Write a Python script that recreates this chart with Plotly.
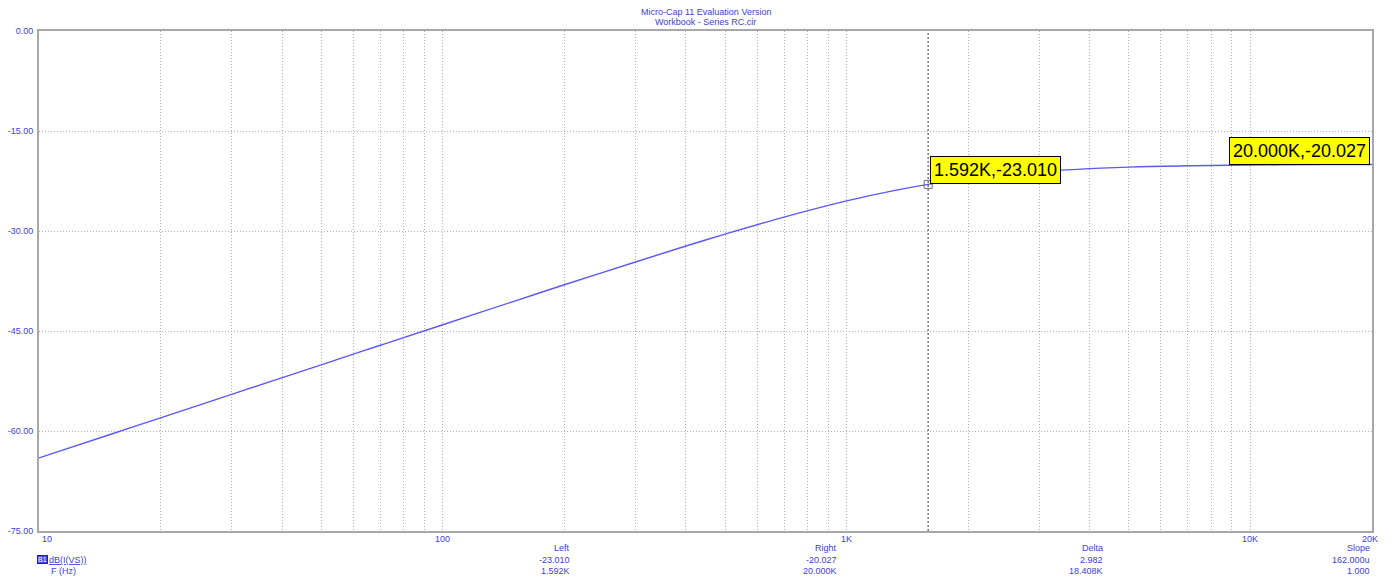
import math
import plotly.graph_objects as go

# ---- data ----
freq_hz = [10, 15, 20, 30, 50, 70, 100, 150, 200, 300, 400, 500, 700,
           1000, 1300, 1592, 2000, 3000, 5000, 7000, 10000, 15000, 20000]
gain_db = [-64.04, -60.52, -58.02, -54.50, -50.07, -47.14, -44.06, -40.55,
           -38.06, -34.65, -32.25, -30.47, -27.91, -25.48, -23.98, -23.01,
           -22.13, -21.08, -20.42, -20.22, -20.11, -20.05, -20.03]

y_tick_vals = [0, -15, -30, -45, -60, -75]
y_tick_text = ["0.00", "-15.00", "-30.00", "-45.00", "-60.00", "-75.00"]

decade_vals = [10, 100, 1000, 10000, 20000]
decade_text = ["10", "100", "1K", "10K", "20K"]

cursor_left = (1592, -23.010)
cursor_right = (20000, -20.027)
cursor_left_label = "1.592K,-23.010"
cursor_right_label = "20.000K,-20.027"

readout_cols = [
    ("Left", "-23.010", "1.592K"),
    ("Right", "-20.027", "20.000K"),
    ("Delta", "2.982", "18.408K"),
    ("Slope", "162.000u", "1.000"),
]

title_lines = ["Micro-Cap 11 Evaluation Version", "Workbook - Series RC.cir"]

# ---- styling ----
BLUE = "#4040d8"
GRID = "#b0b0b0"
FONT = "Arial, Liberation Sans, sans-serif"
X_MIN, X_MAX = decade_vals[0], decade_vals[-1]

# grid positions: every 1..9 multiple in each decade up to 20K
grid_vals = []
for dec in [10, 100, 1000, 10000]:
    for m in range(1, 10):
        v = dec * m
        if v <= X_MAX:
            grid_vals.append(v)

fig = go.Figure()
fig.add_trace(go.Scatter(
    x=freq_hz, y=gain_db, mode="lines", line=dict(color="#5a5af0", width=1.4),
    line_shape="spline", hoverinfo="skip", showlegend=False))

fig.add_trace(go.Scatter(
    x=[cursor_left[0]], y=[cursor_left[1]], mode="markers",
    marker=dict(symbol="square-open", size=8, color="#707070", line=dict(width=1)),
    hoverinfo="skip", showlegend=False))

# cursor vertical line
fig.add_shape(type="line", xref="x", yref="paper", x0=cursor_left[0], x1=cursor_left[0],
              y0=0, y1=1, line=dict(color="#7a7a7a", width=1.5, dash="2px,2px"), layer="below")

annotations = []
annotations.append(dict(
    x=math.log10(cursor_left[0]), y=cursor_left[1], xref="x", yref="y", text=cursor_left_label,
    showarrow=False, xanchor="left", yanchor="bottom", xshift=2, yshift=0,
    bgcolor="#ffff00", bordercolor="#000000", borderwidth=1, borderpad=3,
    font=dict(family=FONT, size=18, color="#000000")))
annotations.append(dict(
    x=math.log10(cursor_right[0]), y=cursor_right[1], xref="x", yref="y", text=cursor_right_label,
    showarrow=False, xanchor="right", yanchor="bottom", xshift=-2, yshift=0,
    bgcolor="#ffff00", bordercolor="#000000", borderwidth=1, borderpad=3,
    font=dict(family=FONT, size=18, color="#000000")))

# decade labels along the x axis (end labels kept inside the plot edges)
for v, t in zip(decade_vals, decade_text):
    if v == X_MIN:
        anchor, shift = "left", 1
    elif v == X_MAX:
        anchor, shift = "right", 8
    else:
        anchor, shift = "center", 0
    annotations.append(dict(
        x=math.log10(v), y=0, xref="x", yref="paper", xanchor=anchor, yanchor="top",
        xshift=shift, yshift=-1, text=t, showarrow=False,
        font=dict(family=FONT, size=9, color=BLUE)))

# title
for i, line in enumerate(title_lines):
    annotations.append(dict(
        x=0.5, y=1, xref="paper", yref="paper", yanchor="middle", yshift=19 - 10 * i,
        text=line, showarrow=False, font=dict(family=FONT, size=9, color=BLUE)))

# readouts
col_x = [0.4, 0.6, 0.8, 1.0]
for cx, col in zip(col_x, readout_cols):
    for i, s in enumerate(col):
        annotations.append(dict(
            x=cx, y=0, xref="paper", yref="paper", xanchor="right", yanchor="middle",
            yshift=-17 - 11.5 * i, text=s, showarrow=False,
            font=dict(family=FONT, size=9, color=BLUE)))

annotations.append(dict(
    x=0, y=0, xref="paper", yref="paper", xanchor="left", yanchor="middle",
    xshift=-2, yshift=-28.5, text="B1", showarrow=False,
    bgcolor="#4848d8", bordercolor="#2020a0", borderwidth=1, borderpad=0,
    font=dict(family=FONT, size=7, color="#ffffff")))
annotations.append(dict(
    x=0, y=0, xref="paper", yref="paper", xanchor="left", yanchor="middle",
    xshift=8, yshift=-28.5, text="<u>dB(I(VS))</u>", showarrow=False,
    font=dict(family=FONT, size=9, color=BLUE)))
annotations.append(dict(
    x=0, y=0, xref="paper", yref="paper", xanchor="left", yanchor="middle",
    xshift=10, yshift=-40, text="F (Hz)", showarrow=False,
    font=dict(family=FONT, size=9, color=BLUE)))

# page body has an 8px margin, so the figure is sized/offset to compensate
fig.update_layout(
    width=1385, height=572,
    margin=dict(l=31, r=21, t=23, b=49, autoexpand=False),
    paper_bgcolor="white", plot_bgcolor="white",
    annotations=annotations,
    font=dict(family=FONT, size=9, color=BLUE),
    xaxis=dict(
        type="log", range=[math.log10(X_MIN), math.log10(X_MAX)], automargin=False,
        tickvals=grid_vals, showticklabels=False, ticks="",
        showgrid=True, gridcolor=GRID, gridwidth=1, griddash="1px,2px",
        showline=True, linecolor="#a8a8a8", linewidth=2, mirror=True,
        zeroline=False),
    yaxis=dict(
        range=[-75, 0], tickvals=y_tick_vals, ticktext=y_tick_text, ticks="", automargin=False,
        showgrid=True, gridcolor=GRID, gridwidth=1, griddash="1px,2px",
        showline=True, linecolor="#a8a8a8", linewidth=2, mirror=True,
        zeroline=False, tickfont=dict(family=FONT, size=9, color=BLUE),
        ticklabelstandoff=2),
)

fig.write_html("out.html")
